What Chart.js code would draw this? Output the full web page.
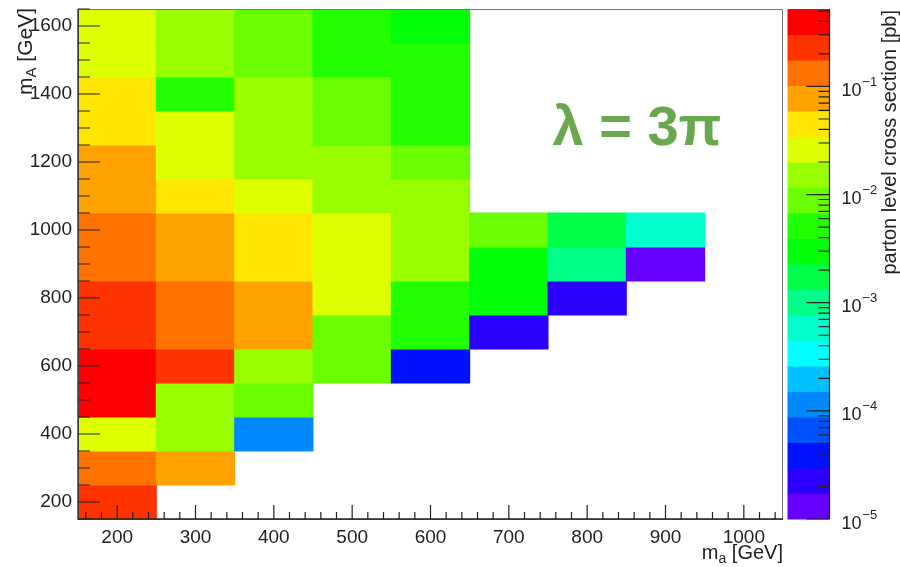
<!DOCTYPE html>
<html>
<head>
<meta charset="utf-8">
<script src="https://cdn.jsdelivr.net/npm/chart.js@4.4.1/dist/chart.umd.min.js"></script>
<style>
  html, body { margin: 0; padding: 0; background: #fff; }
</style>
</head>
<body>
<canvas id="heat" width="900" height="567"></canvas>
<script>
// bin centres in GeV
const maBins = [200, 300, 400, 500, 600, 700, 800, 900, 1000];
const mABins = [200, 300, 400, 500, 600, 700, 800, 900, 1000, 1100, 1200, 1300, 1400, 1500, 1600];
const binWidth = 100;

// parton level cross section [pb], one list per m_a column, same order as mABins (null = no point)
const xsec_ma200 = [0.23, 0.135, 0.026, 0.48, 0.48, 0.23, 0.23, 0.135, 0.135, 0.078, 0.078, 0.045, 0.045, 0.026, 0.026];
const xsec_ma300 = [null, 0.078, 0.015, 0.015, 0.23, 0.135, 0.135, 0.078, 0.078, 0.045, 0.026, 0.026, 0.0052, 0.015, 0.015];
const xsec_ma400 = [null, null, 1.2e-4, 0.009, 0.015, 0.078, 0.078, 0.045, 0.045, 0.026, 0.015, 0.015, 0.015, 0.009, 0.009];
const xsec_ma500 = [null, null, null, null, 0.009, 0.009, 0.026, 0.026, 0.026, 0.015, 0.015, 0.009, 0.009, 0.0052, 0.0052];
const xsec_ma600 = [null, null, null, null, 3.9e-5, 0.0052, 0.0052, 0.015, 0.015, 0.015, 0.009, 0.0052, 0.0052, 0.0052, 0.003];
const xsec_ma700 = [null, null, null, null, null, 2.1e-5, 0.003, 0.003, 0.009, null, null, null, null, null, null];
const xsec_ma800 = [null, null, null, null, null, null, 2.3e-5, 1.0e-3, 1.8e-3, null, null, null, null, null, null];
const xsec_ma900 = [null, null, null, null, null, null, null, 1.3e-5, 6.0e-4, null, null, null, null, null, null];
const xsec_ma1000 = [null, null, null, null, null, null, null, null, null, null, null, null, null, null, null];
const xsecColumns = [xsec_ma200, xsec_ma300, xsec_ma400, xsec_ma500, xsec_ma600, xsec_ma700, xsec_ma800, xsec_ma900, xsec_ma1000];

// axis ranges and tick labels
const xRange = [150, 1050];
const yRange = [150, 1650];
const xTicks = [200, 300, 400, 500, 600, 700, 800, 900, 1000];
const yTicks = [200, 400, 600, 800, 1000, 1200, 1400, 1600];
const zRange = [1e-5, 0.52];
const zTickExps = [-5, -4, -3, -2, -1];

// ROOT style 20 level palette, low to high
const palette = ['#6600ff', '#2b00ff', '#0011ff', '#0052ff', '#0088ff', '#00c0ff', '#00ffff', '#00ffcc',
  '#00ff88', '#00ff48', '#00ff08', '#22ff00', '#6aff00', '#99ff00', '#ddff00', '#ffe600',
  '#ffa200', '#ff7200', '#ff3300', '#ff0000'];
const NCONT = palette.length;

function colourFor(v) {
  const lo = Math.log10(zRange[0]), hi = Math.log10(zRange[1]);
  const f = (Math.log10(v) - lo) / (hi - lo);
  return palette[Math.min(NCONT - 1, Math.max(0, Math.floor(f * NCONT)))];
}

//build cells
const cells = [];
maBins.forEach((ma, i) => {
    xsecColumns[i].forEach((v, j) => {
        if (v == null) return;
        cells.push({ x: ma, y: [mABins[j] - binWidth / 2, mABins[j] + binWidth / 2], v: v });
    });
});

const FONT = "'Liberation Sans', Arial, sans-serif";
const INK = '#222';

// draws text with a subscript, parts = [[text, size, dy], ...]
function drawParts(ctx, x, y, parts, align) {
    let total = 0;
    parts.forEach(p => { ctx.font = p[1] + 'px ' + FONT; total += ctx.measureText(p[0]).width; });
    let cx = align === 'right' ? x - total : x;
    ctx.textAlign = 'left';
    ctx.textBaseline = 'alphabetic';
    parts.forEach(p => {
        ctx.font = p[1] + 'px ' + FONT;
        ctx.fillText(p[0], cx, y + (p[2] || 0));
        cx += ctx.measureText(p[0]).width;
    });
}

const rootDecor = {
    id: 'rootDecor',
    afterDatasetsDraw(chart) {
        const ctx = chart.ctx, a = chart.chartArea;
        const xs = chart.scales.x, ys = chart.scales.y;
        ctx.save();
        // frame
        ctx.strokeStyle = '#777';
        ctx.lineWidth = 1;
        ctx.strokeRect(a.left + 0.5, a.top + 0.5, a.right - a.left - 1, a.bottom - a.top);
        ctx.strokeStyle = INK;
        ctx.lineWidth = 1.3;
        ctx.beginPath();
        ctx.moveTo(a.left, a.top); ctx.lineTo(a.left, a.bottom); ctx.lineTo(a.right, a.bottom);
        ctx.stroke();
        // inside ticks
        ctx.lineWidth = 1.2;
        ctx.beginPath();
        for (let v = xRange[0] + 10; v < xRange[1]; v += 20) {
            const px = xs.getPixelForValue(v);
            const len = xTicks.includes(v) ? 14 : 7;
            ctx.moveTo(px, a.bottom); ctx.lineTo(px, a.bottom - len);
        }
        for (let v = yRange[0]; v <= yRange[1]; v += 50) {
            const py = ys.getPixelForValue(v);
            const len = yTicks.includes(v) ? 22 : 12;
            ctx.moveTo(a.left, py); ctx.lineTo(a.left + len, py);
        }
        ctx.stroke();
        ctx.restore();
    },
    afterDraw(chart) {
        const ctx = chart.ctx, a = chart.chartArea;
        const zs = chart.scales.z;
        ctx.save();
        // colour bar
        const bx = a.right + 4.5, bw = 42;
        const lo = Math.log10(zRange[0]), hi = Math.log10(zRange[1]);
        for (let k = 0; k < NCONT; k++) {
            const y0 = zs.getPixelForValue(Math.pow(10, lo + (hi - lo) * k / NCONT));
            const y1 = zs.getPixelForValue(Math.pow(10, lo + (hi - lo) * (k + 1) / NCONT));
            ctx.fillStyle = palette[k];
            ctx.fillRect(bx, y1, bw, y0 - y1 + 0.5);
        }
        const rx = bx + bw;
        ctx.strokeStyle = INK;
        ctx.lineWidth = 1.2;
        ctx.beginPath();
        ctx.moveTo(rx, a.top); ctx.lineTo(rx, a.bottom);
        for (let e = -5; e <= 0; e++) {
            for (let m = 1; m <= 9; m++) {
                const v = m * Math.pow(10, e);
                if (v < zRange[0] || v > zRange[1]) continue;
                const py = zs.getPixelForValue(v);
                const len = m === 1 ? 23 : 11;
                ctx.moveTo(rx, py); ctx.lineTo(rx - len, py);
            }
        }
        ctx.stroke();
        // colour bar labels
        ctx.fillStyle = INK;
        zTickExps.forEach(e => {
            const py = zs.getPixelForValue(Math.pow(10, e));
            ctx.font = '18px ' + FONT;
            ctx.textAlign = 'left';
            ctx.textBaseline = 'alphabetic';
            ctx.fillText('10', rx + 12, py + 9.5);
            const w = ctx.measureText('10').width;
            ctx.font = '13px ' + FONT;
            ctx.fillText('\u2212' + Math.abs(e), rx + 12 + w + 1, py - 0.5);
        });
        // colour bar title
        ctx.save();
        ctx.translate(896, a.top + 1);
        ctx.rotate(-Math.PI / 2);
        ctx.font = '20px ' + FONT;
        ctx.textAlign = 'right';
        ctx.textBaseline = 'alphabetic';
        ctx.fillText('parton level cross section [pb]', 0, 0);
        ctx.restore();
        // axis titles
        drawParts(ctx, a.right, 559, [['m', 20], ['a', 14, 4], [' [GeV]', 20]], 'right');
        ctx.save();
        ctx.translate(32, 8);
        ctx.rotate(-Math.PI / 2);
        drawParts(ctx, 0, 0, [['m', 21], ['A', 15, 4], [' [GeV]', 21]], 'right');
        ctx.restore();
        // lambda label
        ctx.fillStyle = '#6aa84f';
        ctx.font = 'bold 56px ' + FONT;
        ctx.textAlign = 'center';
        ctx.textBaseline = 'alphabetic';
        ctx.fillText('\u03bb = 3\u03c0', a.left + 559, a.top + 136);
        ctx.restore();
    }
};

new Chart(document.getElementById('heat'), {
    type: 'bar',
    data: {
        datasets: [{
            data: cells,
            backgroundColor: cells.map(c => colourFor(c.v)),
            borderWidth: 0,
            barPercentage: 1,
            categoryPercentage: 1,
            inflateAmount: 0.5
        }]
    },
    options: {
        responsive: false,
        animation: false,
        layout: { padding: { left: 0, right: 117, top: 9, bottom: 0 } },
        plugins: { legend: { display: false }, tooltip: { enabled: false } },
        scales: {
            x: {
                type: 'linear', min: xRange[0], max: xRange[1], offset: false,
                grid: { display: false, drawTicks: false },
                border: { display: false },
                afterBuildTicks: s => { s.ticks = xTicks.map(v => ({ value: v })); },
                afterFit: s => { s.height = 48; s.paddingLeft = 0; s.paddingRight = 0; },
                ticks: { autoSkip: false, maxRotation: 0, padding: 7, color: INK, font: { family: FONT, size: 19 }, callback: v => String(v) }
            },
            y: {
                type: 'linear', min: yRange[0], max: yRange[1],
                grid: { display: false, drawTicks: false },
                border: { display: false },
                afterBuildTicks: s => { s.ticks = yTicks.map(v => ({ value: v })); },
                afterFit: s => { s.width = 78; s.paddingTop = 0; s.paddingBottom = 0; },
                ticks: { autoSkip: false, padding: 6, color: INK, font: { family: FONT, size: 19 }, callback: v => String(v) }
            },
            z: { type: 'logarithmic', position: 'right', display: false, min: zRange[0], max: zRange[1] }
        }
    },
    plugins: [rootDecor]
});
</script>
</body>
</html>
